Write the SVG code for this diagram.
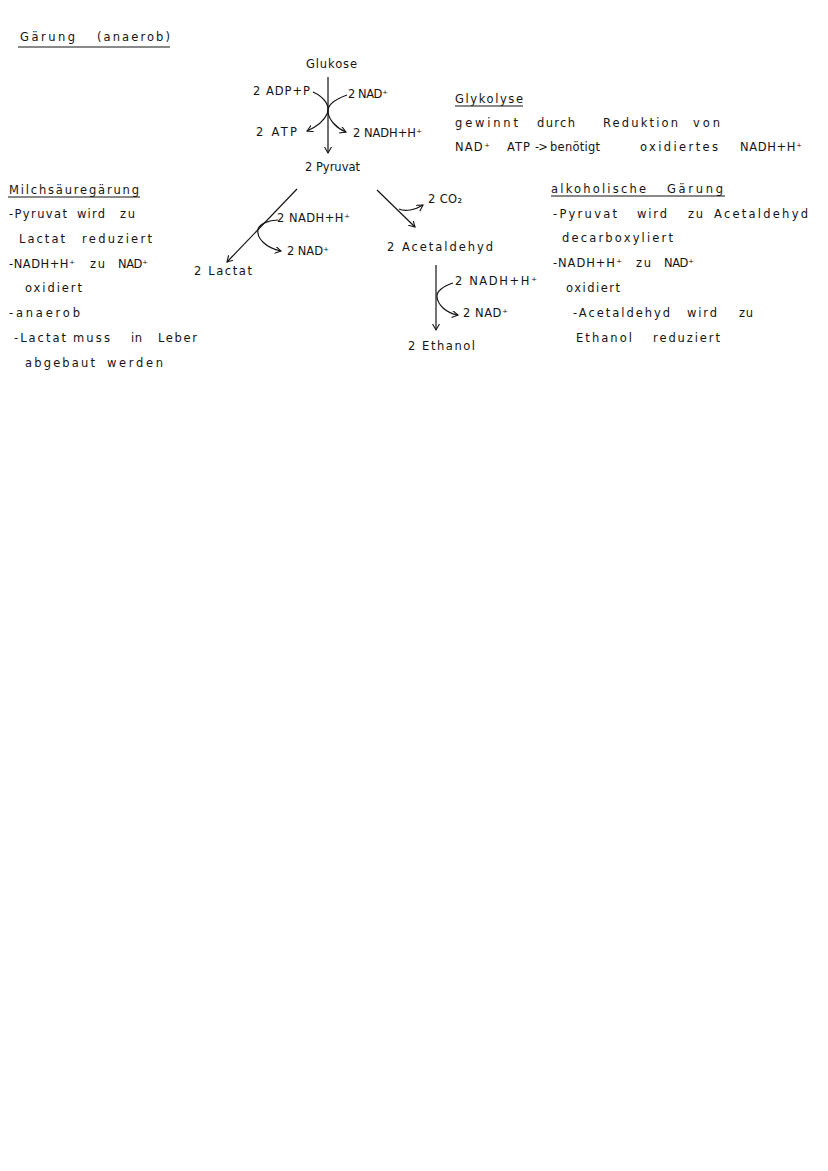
<svg xmlns="http://www.w3.org/2000/svg" width="828" height="1171" viewBox="0 0 828 1171">
<style>
.t{font-family:"DejaVu Sans","Liberation Sans",sans-serif;font-size:11.5px;fill:#141414}
.u{stroke:#141414;stroke-width:1.2;fill:none}
.c{stroke:#141414;stroke-width:1.2;fill:none;marker-end:url(#ah)}
</style>
<defs>
<marker id="ah" markerUnits="userSpaceOnUse" markerWidth="9" markerHeight="9" refX="6" refY="3.5" orient="auto">
<path d="M0,0 L6,3.5 L0,7" fill="none" stroke="#141414" stroke-width="1.1"/>
</marker>
</defs>
<rect width="828" height="1171" fill="#ffffff"/>

<g id="title">
<text class="t" x="20" y="41" textLength="55" lengthAdjust="spacing">Gärung</text>
<text class="t" x="97" y="41" textLength="73" lengthAdjust="spacing">(anaerob)</text>
<line class="u" x1="18" y1="47" x2="170" y2="47"/>
</g>

<g id="glukose"><text class="t" x="306" y="68" textLength="51" lengthAdjust="spacing">Glukose</text></g>
<g id="adp"><text class="t" x="253" y="95" textLength="57" lengthAdjust="spacing">2 ADP+P</text></g>
<g id="nad1"><text class="t" x="348" y="98" textLength="40" lengthAdjust="spacing">2 NAD⁺</text></g>
<g id="atp"><text class="t" x="256" y="136" textLength="41" lengthAdjust="spacing">2 ATP</text></g>
<g id="nadh1"><text class="t" x="353" y="137" textLength="69" lengthAdjust="spacing">2 NADH+H⁺</text></g>
<g id="pyruvat"><text class="t" x="305" y="171" textLength="55" lengthAdjust="spacing">2 Pyruvat</text></g>

<g id="nadh2"><text class="t" x="277" y="222" textLength="73" lengthAdjust="spacing">2 NADH+H⁺</text></g>
<g id="nad2"><text class="t" x="287" y="255" textLength="42" lengthAdjust="spacing">2 NAD⁺</text></g>
<g id="lactat"><text class="t" x="194" y="275" textLength="58" lengthAdjust="spacing">2 Lactat</text></g>

<g id="co2"><text class="t" x="428" y="203" textLength="34" lengthAdjust="spacing">2 CO₂</text></g>
<g id="acetaldehyd"><text class="t" x="387" y="251" textLength="106" lengthAdjust="spacing">2 Acetaldehyd</text></g>
<g id="nadh3"><text class="t" x="455" y="285" textLength="82" lengthAdjust="spacing">2 NADH+H⁺</text></g>
<g id="nad3"><text class="t" x="463" y="317" textLength="45" lengthAdjust="spacing">2 NAD⁺</text></g>
<g id="ethanol"><text class="t" x="408" y="350" textLength="67" lengthAdjust="spacing">2 Ethanol</text></g>

<g id="glykolyse-note">
<text class="t" x="455" y="103" textLength="68" lengthAdjust="spacing">Glykolyse</text>
<line class="u" x1="455" y1="106" x2="523" y2="106"/>
<text class="t" x="455" y="127" textLength="63" lengthAdjust="spacing">gewinnt</text>
<text class="t" x="537" y="127" textLength="38" lengthAdjust="spacing">durch</text>
<text class="t" x="603" y="127" textLength="75" lengthAdjust="spacing">Reduktion</text>
<text class="t" x="693" y="127" textLength="27" lengthAdjust="spacing">von</text>
<text class="t" x="455" y="151" textLength="35" lengthAdjust="spacing">NAD⁺</text>
<text class="t" x="507" y="151" textLength="23" lengthAdjust="spacing">ATP</text>
<text class="t" x="535" y="151" textLength="13" lengthAdjust="spacing">-&gt;</text>
<text class="t" x="550" y="151" textLength="50" lengthAdjust="spacing">benötigt</text>
<text class="t" x="640" y="151" textLength="78" lengthAdjust="spacing">oxidiertes</text>
<text class="t" x="740" y="151" textLength="62" lengthAdjust="spacing">NADH+H⁺</text>
</g>

<g id="milchsaeure-note">
<text class="t" x="9" y="194" textLength="130" lengthAdjust="spacing">Milchsäuregärung</text>
<line class="u" x1="8" y1="197" x2="140" y2="197"/>
<text class="t" x="9" y="218" textLength="58" lengthAdjust="spacing">-Pyruvat</text>
<text class="t" x="77" y="218" textLength="28" lengthAdjust="spacing">wird</text>
<text class="t" x="120" y="218" textLength="15" lengthAdjust="spacing">zu</text>
<text class="t" x="19" y="243" textLength="46" lengthAdjust="spacing">Lactat</text>
<text class="t" x="82" y="243" textLength="70" lengthAdjust="spacing">reduziert</text>
<text class="t" x="9" y="268" textLength="66" lengthAdjust="spacing">-NADH+H⁺</text>
<text class="t" x="90" y="268" textLength="15" lengthAdjust="spacing">zu</text>
<text class="t" x="118" y="268" textLength="30" lengthAdjust="spacing">NAD⁺</text>
<text class="t" x="25" y="292" textLength="57" lengthAdjust="spacing">oxidiert</text>
<text class="t" x="9" y="317" textLength="71" lengthAdjust="spacing">-anaerob</text>
<text class="t" x="14" y="342" textLength="52" lengthAdjust="spacing">-Lactat</text>
<text class="t" x="73" y="342" textLength="37" lengthAdjust="spacing">muss</text>
<text class="t" x="131" y="342" textLength="11" lengthAdjust="spacing">in</text>
<text class="t" x="158" y="342" textLength="39" lengthAdjust="spacing">Leber</text>
<text class="t" x="25" y="367" textLength="70" lengthAdjust="spacing">abgebaut</text>
<text class="t" x="107" y="367" textLength="56" lengthAdjust="spacing">werden</text>
</g>

<g id="alkohol-note">
<text class="t" x="551" y="193" textLength="95" lengthAdjust="spacing">alkoholische</text>
<text class="t" x="667" y="193" textLength="56" lengthAdjust="spacing">Gärung</text>
<line class="u" x1="551" y1="196" x2="725" y2="196"/>
<text class="t" x="553" y="218" textLength="64" lengthAdjust="spacing">-Pyruvat</text>
<text class="t" x="637" y="218" textLength="30" lengthAdjust="spacing">wird</text>
<text class="t" x="688" y="218" textLength="15" lengthAdjust="spacing">zu</text>
<text class="t" x="714" y="218" textLength="94" lengthAdjust="spacing">Acetaldehyd</text>
<text class="t" x="562" y="242" textLength="111" lengthAdjust="spacing">decarboxyliert</text>
<text class="t" x="553" y="267" textLength="69" lengthAdjust="spacing">-NADH+H⁺</text>
<text class="t" x="636" y="267" textLength="15" lengthAdjust="spacing">zu</text>
<text class="t" x="664" y="267" textLength="30" lengthAdjust="spacing">NAD⁺</text>
<text class="t" x="566" y="292" textLength="54" lengthAdjust="spacing">oxidiert</text>
<text class="t" x="573" y="317" textLength="97" lengthAdjust="spacing">-Acetaldehyd</text>
<text class="t" x="687" y="317" textLength="30" lengthAdjust="spacing">wird</text>
<text class="t" x="739" y="317" textLength="14" lengthAdjust="spacing">zu</text>
<text class="t" x="576" y="342" textLength="56" lengthAdjust="spacing">Ethanol</text>
<text class="t" x="653" y="342" textLength="67" lengthAdjust="spacing">reduziert</text>
</g>

<g id="connectors">
<path class="c" d="M328,77 L328,153"/>
<path class="c" d="M313,92 C324,97 331,106 327,114 C324,121 316,127 307,131"/>
<path class="c" d="M347,95 C336,99 327,105 328,112 C329,120 336,128 346,132"/>
<path class="c" d="M297,189 L227,262"/>
<path class="c" d="M278,220 C268,220 260,224 258,229 C256,238 266,248 281,251"/>
<path class="c" d="M377,190 L415,227"/>
<path class="c" d="M399,209 C405,212 415,210 423,205"/>
<path class="c" d="M436,265 L436,330"/>
<path class="c" d="M453,283 C443,286 436,292 437,297 C438,305 446,313 458,315"/>
</g>
</svg>
